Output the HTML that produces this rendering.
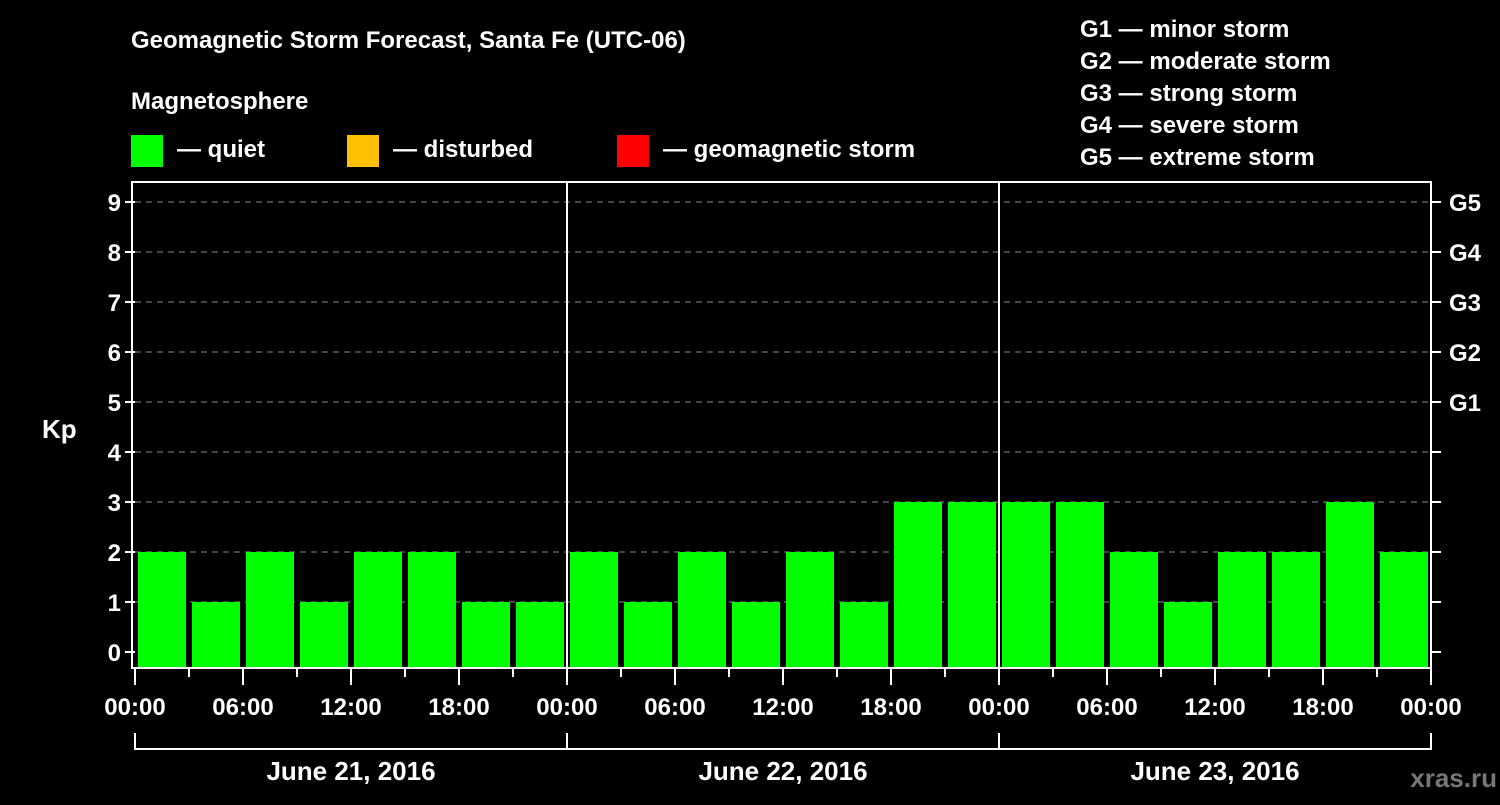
<!DOCTYPE html>
<html><head><meta charset="utf-8"><style>
body{margin:0;background:#000;width:1500px;height:800px;overflow:hidden}
svg{font-family:"Liberation Sans",Arial,sans-serif;font-weight:bold}
</style></head><body>
<svg id="c" width="1500" height="800">
<text x="131" y="48" fill="#fff" font-size="24">Geomagnetic Storm Forecast, Santa Fe (UTC-06)</text>
<text x="131" y="109" fill="#fff" font-size="24">Magnetosphere</text>
<g><rect x="131" y="135" width="32" height="32" fill="#00ff00"/><text x="177" y="157" fill="#fff" font-size="24">— quiet</text></g>
<g><rect x="347" y="135" width="32" height="32" fill="#ffc000"/><text x="393" y="157" fill="#fff" font-size="24">— disturbed</text></g>
<g><rect x="617" y="135" width="32" height="32" fill="#ff0000"/><text x="663" y="157" fill="#fff" font-size="24">— geomagnetic storm</text></g>
<g fill="#fff" font-size="24">
<text x="1080" y="37">G1 — minor storm</text><text x="1080" y="69">G2 — moderate storm</text><text x="1080" y="101">G3 — strong storm</text><text x="1080" y="133">G4 — severe storm</text><text x="1080" y="165">G5 — extreme storm</text></g>
<text x="42" y="438" fill="#fff" font-size="26">Kp</text>
<text x="1497" y="787" fill="#777" font-size="26" text-anchor="end">xras.ru</text>
<g id="plot"></g>
</svg>
<script>
const values=[2,1,2,1,2,2,1,1, 2,1,2,1,2,1,3,3, 3,3,2,1,2,2,3,2];
const days=["June 21, 2016","June 22, 2016","June 23, 2016"];
const hourLabels=["00:00","06:00","12:00","18:00"];
const gLabels=["G1","G2","G3","G4","G5"];
const X0=135,SLOT=54,Y0=652,UNIT=50,TOP=182,BOT=668,RIGHT=X0+values.length*SLOT;
const xs=i=>X0+i*SLOT, ys=v=>Y0-v*UNIT;
const g=document.getElementById('plot'),NS="http://www.w3.org/2000/svg";
function mk(t,a,p){const e=document.createElementNS(NS,t);for(const k in a)e.setAttribute(k,a[k]);(p||g).appendChild(e);return e;}
for(let k=0;k<=9;k++){
 if(k>0){const l=mk('line',{x1:X0,x2:RIGHT,y1:ys(k),y2:ys(k),stroke:'#888','stroke-dasharray':'6,5'});
 
 }
 mk('line',{x1:X0-10,x2:X0,y1:ys(k),y2:ys(k),stroke:'#fff','stroke-width':2});
 mk('line',{x1:RIGHT,x2:RIGHT+10,y1:ys(k),y2:ys(k),stroke:'#fff','stroke-width':2});
 const t=mk('text',{x:X0-14,y:ys(k)+9,fill:'#fff','font-size':24,'text-anchor':'end'});t.textContent=k;
 
 
 if(k>=5){const gt=mk('text',{x:RIGHT+18,y:ys(k)+9,fill:'#fff','font-size':24});gt.textContent=gLabels[k-5];
 
 }
}
values.forEach((v,i)=>{const r=mk('rect',{x:xs(i)+3,y:ys(v),width:SLOT-6,height:BOT-1-ys(v),fill:v>=5?'#ff0000':v>=4?'#ffc000':'#00ff00'});
 
 });
for(let d=1;d<days.length;d++){mk('line',{x1:xs(d*8),x2:xs(d*8),y1:TOP,y2:BOT,stroke:'#fff','stroke-width':2});}
mk('rect',{x:X0-3,y:TOP,width:RIGHT-X0+3,height:BOT-TOP,fill:'none',stroke:'#fff','stroke-width':2});
for(let i=0;i<=values.length;i++){
 const major=i%2==0;mk('line',{x1:xs(i),x2:xs(i),y1:BOT,y2:BOT+(major?17:9),stroke:'#fff','stroke-width':2});
 if(major){const t=mk('text',{x:xs(i),y:715,fill:'#fff','font-size':24,'text-anchor':'middle'});t.textContent=hourLabels[(i/2)%4];
 
 }
}
days.forEach((d,j)=>{const a=xs(j*8),b=xs(j*8+8);
 mk('path',{d:`M${a} 733V749H${b}V733`,fill:'none',stroke:'#fff','stroke-width':2});
 const t=mk('text',{x:(a+b)/2,y:780,fill:'#fff','font-size':26,'text-anchor':'middle'});t.textContent=d;
 
 });
</script>
</body></html>
